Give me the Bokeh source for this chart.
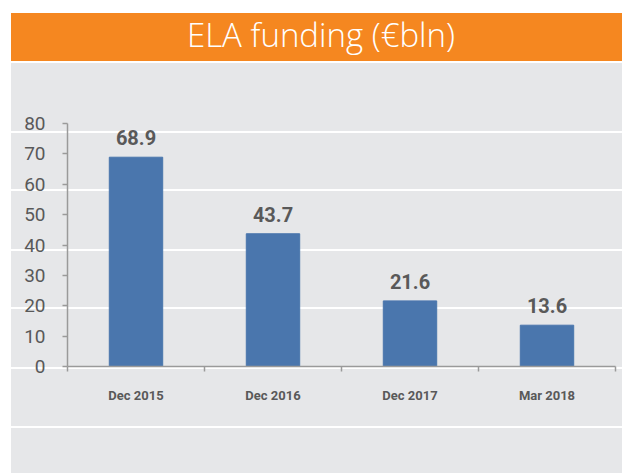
from bokeh.plotting import figure
from bokeh.models import ColumnDataSource, LabelSet, Range1d, FixedTicker, Div
from bokeh.layouts import column
from bokeh.core.properties import value
from bokeh.embed import file_html
from bokeh.resources import INLINE

# ---- data ----
title_text = "ELA funding (€bln)"
categories = ["Dec 2015", "Dec 2016", "Dec 2017", "Mar 2018"]
funding = [68.9, 43.7, 21.6, 13.6]
y_ticks = [0, 10, 20, 30, 40, 50, 60, 70, 80]

# ---- styles ----
ORANGE = "#f58720"
GRAY_BG = "#e6e7e9"
BAR = "#4a76ad"
TXT = "#595959"
AXIS = "#9a9a9a"

W = 611
H_HEAD = 48
H_MAIN = 410

# header band with the chart title
head = Div(text=title_text, width=W, height=H_HEAD, margin=(0, 0, 0, 0),
           styles={"background-color": ORANGE, "color": "white",
                   "font-family": "'Open Sans', sans-serif", "font-weight": "300",
                   "font-size": "33px", "line-height": "44px", "text-align": "center",
                   "text-indent": "9px", "white-space": "nowrap", "overflow": "hidden"})

# main chart
xs = [i + 0.5 for i in range(len(categories))]
src = ColumnDataSource(dict(x=xs, y=funding, lbl=[f"{v:.1f}" for v in funding]))

p = figure(width=W, height=H_MAIN, x_range=Range1d(0, len(categories)),
           y_range=Range1d(y_ticks[0], y_ticks[-1]),
           output_backend="svg", toolbar_location=None, margin=(0, 0, 0, 0),
           min_border_left=56, min_border_right=7, min_border_top=60, min_border_bottom=107)
p.background_fill_color = None
p.border_fill_color = None
p.outline_line_color = None
p.grid.visible = False

# background: grey panel with white row separators (decoration, via CSS)
sep_rows = [68, 126, 186, 244, 304, 363]
stops = []
for yy in sep_rows:
    stops += [f"{GRAY_BG} {yy}px", f"#ffffff {yy}px", f"#ffffff {yy + 2}px", f"{GRAY_BG} {yy + 2}px"]
p.styles = {"background": f"linear-gradient(to bottom, {GRAY_BG} 0px, " + ", ".join(stops) + f", {GRAY_BG} 100%)"}

p.vbar(x="x", top="y", width=0.39, source=src, fill_color=BAR, line_color=BAR)

p.add_layout(LabelSet(x="x", y="y", text="lbl", source=src, y_offset=12,
                      text_align="center", text_baseline="alphabetic",
                      text_font=value("Roboto"), text_font_style="bold",
                      text_font_size="20px", text_color=TXT))

# x axis: labels at category centres, ticks at category boundaries
xa = p.xaxis[0]
xa.ticker = FixedTicker(ticks=xs, minor_ticks=list(range(len(categories) + 1)))
xa.major_label_overrides = {x: c for x, c in zip(xs, categories)}
xa.major_tick_line_color = None
xa.major_tick_out = 0
xa.major_tick_in = 0
xa.minor_tick_out = 5
xa.minor_tick_in = 0
xa.minor_tick_line_color = AXIS
xa.minor_tick_line_width = 1.5
xa.axis_line_color = AXIS
xa.axis_line_width = 1.5
xa.major_label_standoff = 16
xa.major_label_text_font = "Roboto"
xa.major_label_text_font_style = "bold"
xa.major_label_text_font_size = "13px"
xa.major_label_text_color = TXT

ya = p.yaxis[0]
ya.ticker = FixedTicker(ticks=y_ticks)
ya.major_tick_out = 5
ya.major_tick_in = 0
ya.minor_tick_line_color = None
ya.major_tick_line_color = AXIS
ya.major_tick_line_width = 1.5
ya.axis_line_color = AXIS
ya.axis_line_width = 1.5
ya.major_label_standoff = 17
ya.major_label_text_font = "Roboto"
ya.major_label_text_font_size = "19px"
ya.major_label_text_color = TXT

layout = column(head, p, spacing=2, margin=(13, 0, 0, 11))

open("out.html", "w").write(file_html(layout, INLINE))
